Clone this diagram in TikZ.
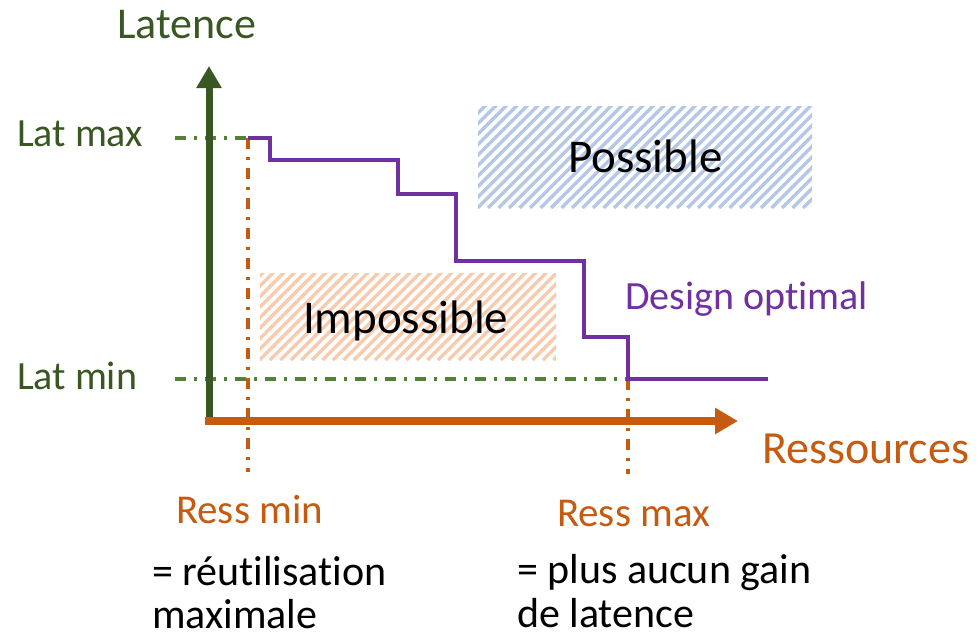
\documentclass[tikz,border=0pt]{standalone}
\usepackage{fontspec}
\setmainfont[Ligatures=NoCommon]{Carlito}
\usetikzlibrary{arrows.meta}
\definecolor{axgreen}{HTML}{385723}
\definecolor{guidegreen}{HTML}{548235}
\definecolor{rust}{HTML}{C55A11}
\definecolor{violet}{HTML}{7030A0}
\definecolor{hatchblue}{HTML}{B4C7E7}
\definecolor{hatchorange}{HTML}{F8CBAD}
\begin{document}
\begin{tikzpicture}[x=1pt,y=-1pt,
  guide/.style={line width=3.6pt, dash pattern=on 11pt off 8pt on 3pt off 8pt},
  txt/.style={inner sep=0pt, outer sep=0pt, anchor=base west},
  fs/.style={font=\fontsize{#1}{#1}\selectfont},
  hatchbox/.style 2 args={inner sep=0pt, minimum width=#1, minimum height=#2,
    path picture={
      \foreach \k in {0,...,70}
        \draw[hatchline]
          ([xshift=\k*10.5pt-200pt]path picture bounding box.south west)
          -- ++(200pt,200pt);
    }},
  hatchline/.style={line width=3.4pt},
  curve/.style={violet, line width=3.3pt, line join=miter}
]
\useasboundingbox (0,0) rectangle (979,638);

% hatched regions
\node[hatchbox={334pt}{102pt}, hatchline/.append style={hatchblue}] (possible) at (645,157) {};
\node[hatchbox={296pt}{87pt}, hatchline/.append style={hatchorange}] (impossible) at (408,316.5) {};
\node[txt, fs=47] (possibletxt) at (568,172) {Possible};
\node[txt, fs=47] (impossibletxt) at (303,333) {Impossible};

% optimal-design staircase
\coordinate (s0) at (248,138);
\coordinate (s1) at (270,138);
\coordinate (s2) at (270,160);
\coordinate (s3) at (398,160);
\coordinate (s4) at (398,194);
\coordinate (s5) at (456,194);
\coordinate (s6) at (456,261);
\coordinate (s7) at (584,261);
\coordinate (s8) at (584,337);
\coordinate (s9) at (628,337);
\coordinate (s10) at (628,379);
\coordinate (s11) at (768,379);

% guide lines
\coordinate (gmax) at (175,138);
\coordinate (gmin) at (175,379);
\coordinate (rmin) at (248,472);
\coordinate (rmax) at (628,474);
\draw[guide, guidegreen] (gmax) -- (s0);
\draw[guide, guidegreen] (gmin) -- (s10);
\draw[guide, rust] (s0) -- (rmin);
\draw[guide, rust] (s10) -- (rmax);

% axes
\coordinate (origin) at (209,421);
\coordinate (ytip) at (209,66);
\coordinate (xstart) at (205,421);
\coordinate (xtip) at (738,421);
\draw[axgreen, line width=7pt, -{Triangle[length=22pt,width=24pt]}] (origin) -- (ytip);
\draw[rust, line width=8pt, -{Triangle[length=23pt,width=25pt]}] (xstart) -- (xtip);

\draw[curve] (s0) -- (s1) -- (s2) -- (s3) -- (s4) -- (s5) -- (s6) -- (s7)
  -- (s8) -- (s9) -- (s10) -- (s11);

% labels
\node[txt, fs=44, text=axgreen] (latence) at (117,38) {Latence};
\node[txt, fs=40, text=axgreen] (latmax) at (17,146) {Lat max};
\node[txt, fs=40, text=axgreen] (latmin) at (17,389) {Lat min};
\node[txt, fs=46, text=rust] (ress) at (762,463) {Ressources};
\node[txt, fs=41, text=rust] (ressmin) at (176,523) {Ress min};
\node[txt, fs=41, text=rust] (ressmax) at (557,526) {Ress max};
\node[txt, fs=40, text=violet] (design) at (625,309) {Design optimal};
\node[txt, fs=42] (reuse1) at (152,585) {= réutilisation};
\node[txt, fs=42] (reuse2) at (152,628) {maximale};
\node[txt, fs=42] (gain1) at (517,583) {= plus aucun gain};
\node[txt, fs=42] (gain2) at (517,627) {de latence};
\end{tikzpicture}
\end{document}
